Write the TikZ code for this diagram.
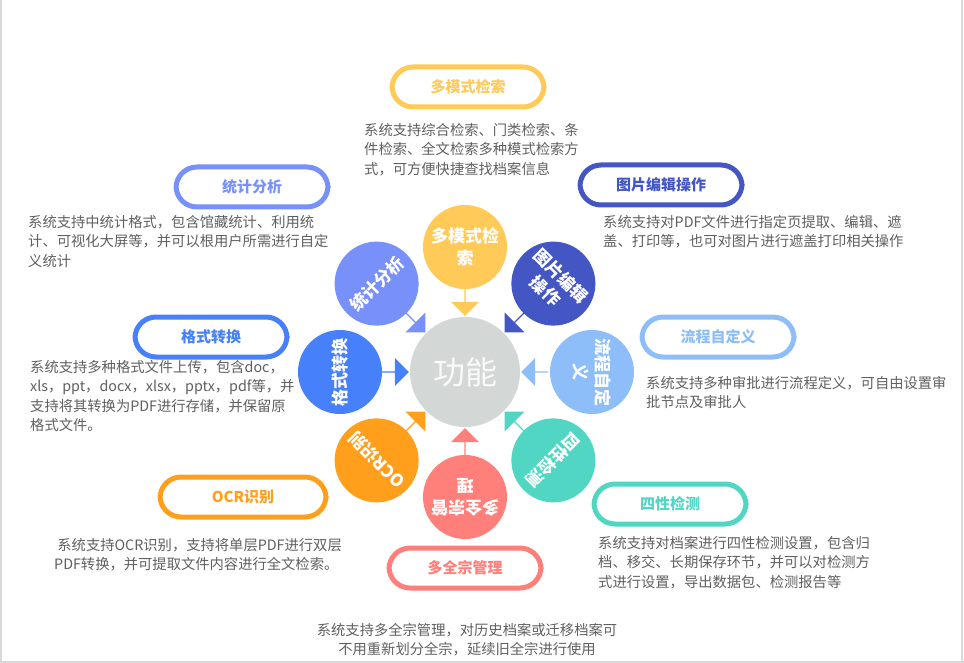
\documentclass[tikz,border=0pt]{standalone}
\usepackage{fontspec}
\setmainfont{Noto Sans CJK SC}
\usetikzlibrary{shapes.arrows,calc}
\definecolor{cYel}{HTML}{FFCA57}
\definecolor{cDblue}{HTML}{4356C4}
\definecolor{cLblue}{HTML}{8DBEFA}
\definecolor{cTeal}{HTML}{52D6C4}
\definecolor{cSal}{HTML}{FF7F7A}
\definecolor{cOra}{HTML}{FF9F1C}
\definecolor{cBlue}{HTML}{4680FA}
\definecolor{cVio}{HTML}{7890FA}
\definecolor{cCore}{HTML}{D3D7D6}
\definecolor{cTxt}{HTML}{5F5F5F}
\tikzset{
  sat/.style={circle,fill=#1,minimum size=84pt,inner sep=0pt,text=white,align=center,
    font=\fontsize{17}{22}\selectfont\bfseries},
  flow/.style={single arrow,fill=#1,minimum height=27pt,minimum width=28pt,
    single arrow head extend=4pt,inner sep=0pt},
  pill/.style={draw=#1,line width=5pt,rounded corners=21pt,fill=white,minimum width=152pt,
    minimum height=40pt,text=#1,font=\fontsize{15}{17}\selectfont\bfseries},
  desc/.style={text=cTxt,align=left,anchor=north west,inner sep=0pt,
    font=\fontsize{14.3}{19.5}\selectfont}
}
\begin{document}
\begin{tikzpicture}[x=1pt,y=-1pt]
\useasboundingbox (0,0) rectangle (964,663);
\draw[gray!30,line width=1.5pt] (0.75,0) -- (0.75,663);
\draw[gray!30,line width=1.5pt] (962,0) -- (962,663);
\draw[gray!30,line width=1.5pt] (0,662) -- (964,662);

% core and satellites
\node[circle,fill=cCore,minimum size=110pt,text=white!95!gray,font=\fontsize{32}{34}\selectfont] (core) at (465,372) {功能};
\node[sat=cYel] (s1) at ($(core)+(-90:125)$) {多模式检\\索};
\node[sat=cDblue,rotate=-45] (s2) at ($(core)+(-45:125)$) {图片编辑\\操作};
\node[sat=cLblue,rotate=-90] (s3) at ($(core)+(0:127)$) {流程自定\\义};
\node[sat=cTeal,rotate=-135] (s4) at ($(core)+(45:125)$) {四性检测};
\node[sat=cSal,rotate=180] (s5) at ($(core)+(90:125)$) {多全宗管\\理};
\node[sat=cOra,rotate=135] (s6) at ($(core)+(135:125)$) {OCR识别};
\node[sat=cBlue,rotate=90] (s7) at ($(core)+(180:125)$) {格式转换};
\node[sat=cVio,rotate=45] (s8) at ($(core)+(-135:125)$) {统计分析};

% arrows into the core
\node[flow=cYel,rotate=-90] (a1) at ($(core)+(-90:70)$) {};
\node[flow=cDblue,rotate=-135] (a2) at ($(core)+(-45:70)$) {};
\node[flow=cLblue,rotate=180] (a3) at ($(core)+(0:70)$) {};
\node[flow=cTeal,rotate=135] (a4) at ($(core)+(45:70)$) {};
\node[flow=cSal,rotate=90] (a5) at ($(core)+(90:70)$) {};
\node[flow=cOra,rotate=45] (a6) at ($(core)+(135:70)$) {};
\node[flow=cBlue,rotate=0] (a7) at ($(core)+(180:70)$) {};
\node[flow=cVio,rotate=-45] (a8) at ($(core)+(-135:70)$) {};

% titles
\node[pill=cYel] (t1) at (468,87) {多模式检索};
\node[pill=cDblue,minimum width=162pt] (t2) at (661,185) {图片编辑操作};
\node[pill=cLblue] (t3) at (718,337) {流程自定义};
\node[pill=cTeal] (t4) at (670,504) {四性检测};
\node[pill=cSal] (t5) at (465,568) {多全宗管理};
\node[pill=cOra,minimum width=166pt] (t6) at (243,497) {OCR识别};
\node[pill=cBlue] (t7) at (211,337) {格式转换};
\node[pill=cVio] (t8) at (252,187) {统计分析};

% descriptions
\node[desc] (d1) at (364,123) {系统支持综合检索、门类检索、条\\件检索、全文检索多种模式检索方\\式，可方便快捷查找档案信息};
\node[desc] (d2) at (603,215) {系统支持对PDF文件进行指定页提取、编辑、遮\\盖、打印等，也可对图片进行遮盖打印相关操作};
\node[desc] (d3) at (646,376) {系统支持多种审批进行流程定义，可自由设置审\\批节点及审批人};
\node[desc] (d4) at (598,536) {系统支持对档案进行四性检测设置，包含归\\档、移交、长期保存环节，并可以对检测方\\式进行设置，导出数据包、检测报告等};
\node[desc,align=center,anchor=north] (d5) at (467,623) {系统支持多全宗管理，对历史档案或迁移档案可\\不用重新划分全宗，延续旧全宗进行使用};
\node[desc] (d6) at (54,538) {\ 系统支持OCR识别，支持将单层PDF进行双层\\PDF转换，并可提取文件内容进行全文检索。};
\node[desc] (d7) at (30,360) {系统支持多种格式文件上传，包含doc，\\xls，ppt，docx，xlsx，pptx，pdf等，并\\支持将其转换为PDF进行存储，并保留原\\格式文件。};
\node[desc] (d8) at (28,215) {系统支持中统计格式，包含馆藏统计、利用统\\计、可视化大屏等，并可以根用户所需进行自定\\义统计};
\end{tikzpicture}
\end{document}
